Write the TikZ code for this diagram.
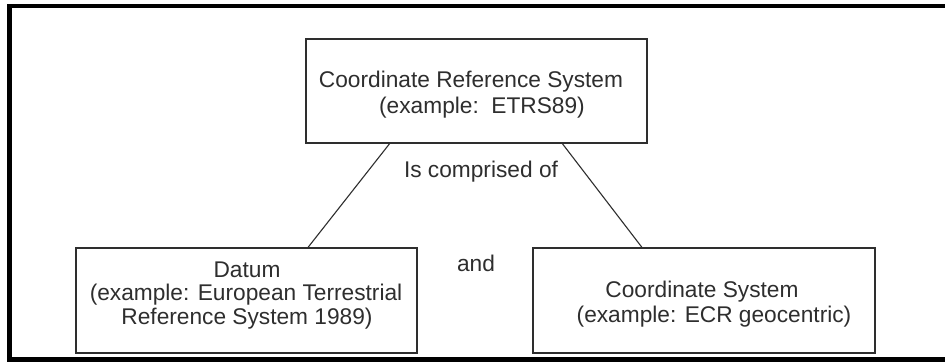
\documentclass[tikz,border=0pt]{standalone}
\usepackage{fontspec}
\setmainfont{Liberation Sans}
\usetikzlibrary{calc}
\definecolor{ink}{gray}{0.18}
\begin{document}
\begin{tikzpicture}[x=1pt,y=-1pt,
  box/.style={draw=ink,line width=1.6pt,rectangle,inner sep=0pt},
  txt/.style={text=ink,inner sep=0pt,anchor=base,font=\fontsize{22.7}{24.5}\selectfont},
  link/.style={draw=ink,line width=1.1pt},
  frame/.style={draw=black,line width=4.8pt}]
\useasboundingbox (0,0) rectangle (945,362);
\clip (0,0) rectangle (945,362);
\fill[white] (0,0) rectangle (945,362);
\draw[frame] (9.5,6) rectangle (952,359.8);
% boxes
\node[box,minimum width=341pt,minimum height=104pt] (crs) at (476.5,91) {};
\node[box,minimum width=341pt,minimum height=105pt] (datum) at (246.5,300.5) {};
\node[box,minimum width=342pt,minimum height=105pt] (cs) at (704,300.5) {};
% texts
\node[txt] (crs1) at (471,87.5) {Coordinate Reference System};
\node[txt] (crs2) at (482,113) {(example:\ \ ETRS89)};
\node[txt] (dat1) at (247,277) {Datum};
\node[txt] (dat2) at (246,300.5) {(example: European Terrestrial};
\node[txt] (dat3) at (247,324) {Reference System 1989)};
\node[txt] (cs1) at (702,297) {Coordinate System};
\node[txt] (cs2) at (714,322.5) {(example: ECR geocentric)};
\node[txt] (comp) at (481,177) {Is comprised of};
\node[txt] (and) at (476,271) {and};
% connectors
\coordinate (a1) at ($(crs.south west)!0.246!(crs.south east)$);
\coordinate (a2) at ($(crs.south west)!0.751!(crs.south east)$);
\coordinate (b1) at ($(datum.north west)!0.680!(datum.north east)$);
\coordinate (b2) at ($(cs.north west)!0.319!(cs.north east)$);
\draw[link] (a1) -- (b1);
\draw[link] (a2) -- (b2);
\end{tikzpicture}
\end{document}
